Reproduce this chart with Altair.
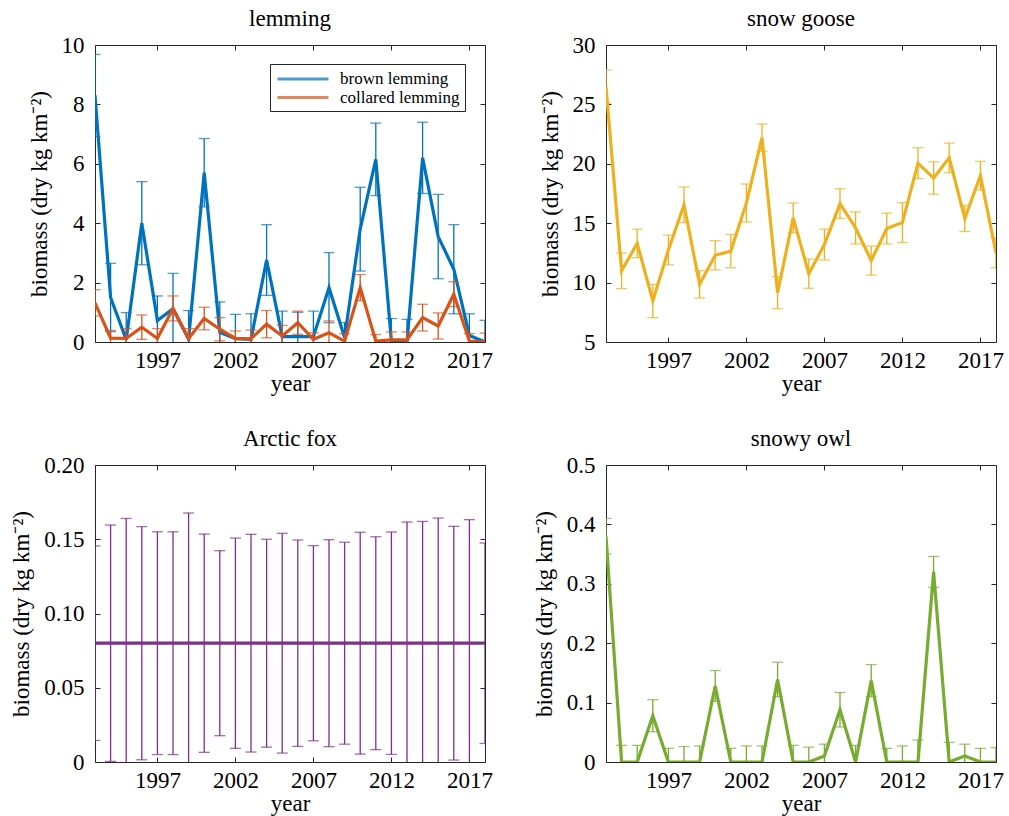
import altair as alt
import pandas as pd

SERIF = "Liberation Serif"
FRAME = "#262626"
FS = 23

years = list(range(1993, 2019))

# ---- lemming ----
brown_mean = [8.3, 1.5, 0.08, 4.0, 0.72, 1.12, 0.09, 5.7, 0.32, 0.11, 0.09, 2.76, 0.18,
              0.18, 0.18, 1.83, 0.15, 3.8, 6.15, 0.03, 0.0, 6.2, 3.55, 2.45, 0.22, 0.0]
brown_err = [1.38, 1.15, 0.91, 1.4, 0.83, 1.19, 0.97, 1.15, 1.03, 0.82, 0.86, 1.19, 0.86,
             0.82, 0.86, 1.18, 0.5, 1.41, 1.22, 0.76, 0.76, 1.2, 1.42, 1.5, 0.73, 0.73]
collared_mean = [1.32, 0.13, 0.12, 0.5, 0.12, 1.13, 0.12, 0.79, 0.43, 0.12, 0.11, 0.6, 0.2,
                 0.65, 0.09, 0.31, 0.03, 1.83, 0.03, 0.07, 0.07, 0.82, 0.54, 1.61, 0.03, 0.0]
collared_err = [0.44, 0.26, 0.33, 0.41, 0.33, 0.42, 0.33, 0.38, 0.39, 0.25, 0.29, 0.46, 0.36,
                0.39, 0.22, 0.4, 0.25, 0.44, 0.22, 0.27, 0.27, 0.45, 0.44, 0.42, 0.25, 0.3]

# ---- snow goose ----
goose_mean = [26.5, 11.0, 13.3, 8.45, 12.75, 16.55, 9.85, 12.3, 12.65, 16.7, 22.2, 9.15, 15.45,
              10.75, 13.2, 16.65, 14.6, 11.85, 14.55, 15.05, 20.05, 18.8, 20.5, 15.4, 19.0, 12.5]
goose_err = [1.4, 1.5, 1.2, 1.4, 1.25, 1.5, 1.15, 1.23, 1.4, 1.6, 1.15, 1.35, 1.25,
             1.23, 1.3, 1.25, 1.35, 1.22, 1.3, 1.68, 1.3, 1.36, 1.25, 1.1, 1.2, 1.25]

# ---- Arctic fox ----
fox_mean = [0.08] * 26
fox_err = [0.0655, 0.0796, 0.084, 0.0785, 0.075, 0.075, 0.0877, 0.0735, 0.0623, 0.0708,
           0.0733, 0.070, 0.074, 0.0695, 0.0657, 0.0697, 0.068, 0.0747, 0.0717, 0.0749,
           0.0816, 0.082, 0.0843, 0.0787, 0.0832, 0.0675]

# ---- snowy owl ----
owl_mean = [0.38, 0.0, 0.0, 0.078, 0.0, 0.0, 0.0, 0.128, 0.0, 0.0, 0.0, 0.139, 0.0,
            0.0, 0.01, 0.088, 0.0, 0.137, 0.0, 0.0, 0.0, 0.32, 0.0, 0.01, 0.0, 0.0]
owl_err = [0.03, 0.028, 0.028, 0.027, 0.023, 0.026, 0.027, 0.026, 0.023, 0.027, 0.027, 0.029, 0.028,
           0.025, 0.02, 0.029, 0.028, 0.027, 0.023, 0.027, 0.037, 0.026, 0.033, 0.02, 0.023, 0.024]

x_ticks = [1997, 2002, 2007, 2012, 2017]
YTITLE = "biomass (dry kg km\u207b\u00b2)"
W, H = 390, 297


def frame(series, mean, err):
    df = pd.DataFrame({"year": years, "mean": mean, "err": err})
    df["series"] = series
    df["lo"] = df["mean"] - df["err"]
    df["hi"] = df["mean"] + df["err"]
    return df


def axes(ydom, yvals, ylabel_expr):
    xs = alt.Scale(domain=[1993, 2018], nice=False, zero=False)
    ys = alt.Scale(domain=ydom, nice=False, zero=False)
    x_main = alt.Axis(orient="bottom", values=x_ticks, format="d", title="year",
                      offset=-5, tickSize=5, domain=False, grid=False,
                      labelFont=SERIF, labelFontSize=FS, titleFont=SERIF, titleFontSize=FS,
                      labelFlush=False, labelPadding=7, titlePadding=0)
    y_main = alt.Axis(orient="left", values=yvals, title=YTITLE, labelExpr=ylabel_expr,
                      offset=-5, tickSize=5, domain=False, grid=False,
                      labelFont=SERIF, labelFontSize=FS, titleFont=SERIF, titleFontSize=FS,
                      labelPadding=11, titlePadding=10)
    x_top = alt.Axis(orient="top", values=x_ticks, labels=False, title=None,
                     offset=-5, tickSize=5, domain=False, grid=False)
    y_right = alt.Axis(orient="right", values=yvals, labels=False, title=None,
                       offset=-5, tickSize=5, domain=False, grid=False)
    return xs, ys, (x_main, y_main), (x_top, y_right)


def series_layers(df, color_kw, xs, ys, ax_a, ax_b):
    base = alt.Chart(df)

    def enc_x(ax):
        return alt.X("year:Q", scale=xs, axis=ax)

    rule = base.mark_rule(strokeWidth=1.3, clip=True).encode(
        x=enc_x(ax_a[0] if ax_a else None),
        y=alt.Y("lo:Q", scale=ys, axis=ax_a[1] if ax_a else None),
        y2="hi:Q",
        **color_kw,
    )
    caps = base.transform_fold(["lo", "hi"], as_=["bound", "bv"]).mark_tick(
        orient="horizontal", size=11, thickness=1.3, clip=True
    ).encode(
        x=enc_x(ax_b[0] if ax_b else None),
        y=alt.Y("bv:Q", scale=ys, axis=ax_b[1] if ax_b else None),
        **color_kw,
    )
    line = base.mark_line(strokeWidth=3.2, clip=True).encode(
        x=enc_x(None),
        y=alt.Y("mean:Q", scale=ys, axis=None),
        **color_kw,
    )
    return [rule, caps, line]


def panel(dfs, colors, title, ydom, yvals, ylabel_expr, legend=None):
    xs, ys, main_ax, sec_ax = axes(ydom, yvals, ylabel_expr)
    layers = []
    names = [d["series"].iloc[0] for d in dfs]
    for i, (df, col) in enumerate(zip(dfs, colors)):
        if legend is not None:
            ckw = {"color": alt.Color("series:N",
                                      scale=alt.Scale(domain=names, range=colors),
                                      legend=legend)}
        else:
            ckw = {"color": alt.value(col)}
        layers += series_layers(df, ckw, xs, ys,
                                main_ax if i == 0 else None,
                                sec_ax if i == 0 else None)
    return alt.layer(*layers).resolve_axis(x="independent", y="independent").properties(
        width=W, height=H,
        title=alt.TitleParams(text=title, fontSize=FS, font=SERIF, fontWeight="normal",
                              color="black", offset=3),
    )


lem_legend = alt.Legend(
    title=None, orient="none", legendX=175, legendY=19,
    strokeColor=FRAME, fillColor="white", padding=5, cornerRadius=0,
    labelFont=SERIF, labelFontSize=17, labelColor="black",
    symbolType="M-3,0H3", symbolStrokeWidth=3, symbolSize=289,
    symbolOffset=18, labelOffset=27, rowPadding=0.5,
)

p1 = panel([frame("brown lemming", brown_mean, brown_err),
            frame("collared lemming", collared_mean, collared_err)],
           ["#0072BD", "#D95319"], "lemming", [0, 10], [0, 2, 4, 6, 8, 10],
           "format(datum.value, 'd')", legend=lem_legend)
p2 = panel([frame("snow goose", goose_mean, goose_err)], ["#EDB120"], "snow goose",
           [5, 30], [5, 10, 15, 20, 25, 30], "format(datum.value, 'd')")
p3 = panel([frame("Arctic fox", fox_mean, fox_err)], ["#7E2F8E"], "Arctic fox",
           [0, 0.2], [0, 0.05, 0.1, 0.15, 0.2],
           "datum.value == 0 ? '0' : format(datum.value, '.2f')")
p4 = panel([frame("snowy owl", owl_mean, owl_err)], ["#77AC30"], "snowy owl",
           [0, 0.5], [0, 0.1, 0.2, 0.3, 0.4, 0.5],
           "datum.value == 0 ? '0' : format(datum.value, '.1f')")

chart = alt.concat(p1, p2, p3, p4, columns=2, bounds="flush",
                   spacing={"row": 123, "column": 121}).properties(
    padding={"left": 10, "top": 7, "right": 5, "bottom": 1},
    background="white",
).configure_view(stroke=FRAME, strokeWidth=1).configure_axis(
    labelFont=SERIF, titleFont=SERIF, labelFontSize=FS, titleFontSize=FS,
    labelColor="black", titleColor="black", tickColor=FRAME, tickWidth=1,
    titleFontWeight="normal",
)

chart.save("out.html", embed_options={"renderer": "svg", "actions": False})
